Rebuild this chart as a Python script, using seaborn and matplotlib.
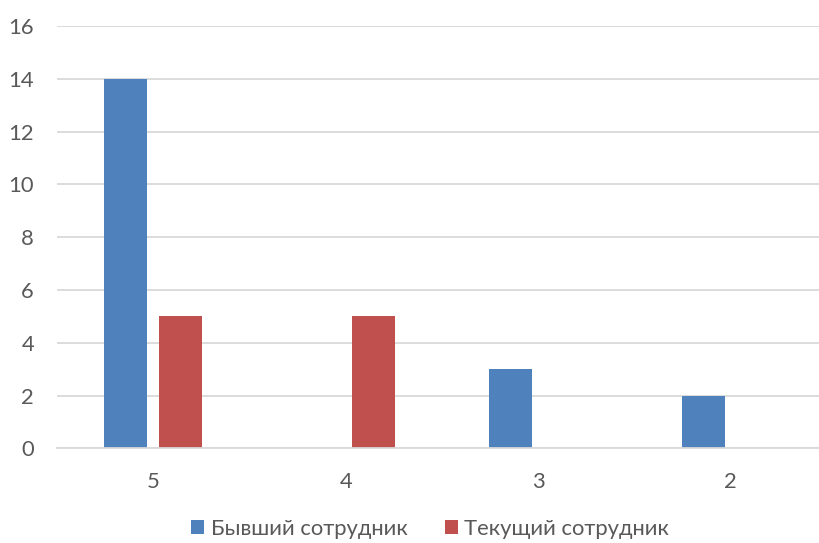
import numpy as np
import pandas as pd
import seaborn as sns
import matplotlib.pyplot as plt

# Data
grades = ["5", "4", "3", "2"]
former = [14, 0, 3, 2]
current = [5, 5, 0, 0]
series_names = ["Бывший сотрудник", "Текущий сотрудник"]
y_ticks = [0, 2, 4, 6, 8, 10, 12, 14, 16]

df = pd.DataFrame({
    "grade": grades * 2,
    "count": former + current,
    "status": [series_names[0]] * len(grades) + [series_names[1]] * len(grades),
})

sns.set_style("white")
plt.rcParams["font.family"] = ["Lato", "DejaVu Sans"]

text_color = "#595959"
grid_color = "#D9D9D9"

fig = plt.figure(figsize=(8.19, 5.43), dpi=100)
ax = fig.add_axes([57 / 819, 94.7 / 543, 770 / 819, 422.4 / 543])

sns.barplot(data=df, x="grade", y="count", hue="status", order=grades,
            hue_order=series_names, palette=["#4F81BD", "#C0504D"],
            saturation=1, width=0.571, gap=0.218, linewidth=0, ax=ax)

ax.set_xlim(-0.5, 3.5)
ax.set_ylim(0, 16)
ax.set_yticks(y_ticks)
ax.set_xlabel("")
ax.set_ylabel("")
ax.yaxis.grid(True, color=grid_color, linewidth=1.3)
ax.set_axisbelow(True)
for side in ["left", "right", "top"]:
    ax.spines[side].set_visible(False)
ax.spines["bottom"].set_color(grid_color)
ax.spines["bottom"].set_linewidth(1.3)
ax.tick_params(axis="both", length=0, labelsize=15.8, colors=text_color)
ax.tick_params(axis="y", pad=16.5)
ax.tick_params(axis="x", pad=17)

handles, labels = ax.get_legend_handles_labels()
ax.legend_.remove()
leg = fig.legend(handles, labels, loc="center", bbox_to_anchor=(430 / 819, 1 - 529 / 543),
                 ncol=2, frameon=False, fontsize=15.8, handlelength=0.6,
                 handleheight=0.6, handletextpad=0.3, columnspacing=1.7,
                 borderpad=0)
for t in leg.get_texts():
    t.set_color(text_color)

fig.savefig("out.png", dpi=100)
